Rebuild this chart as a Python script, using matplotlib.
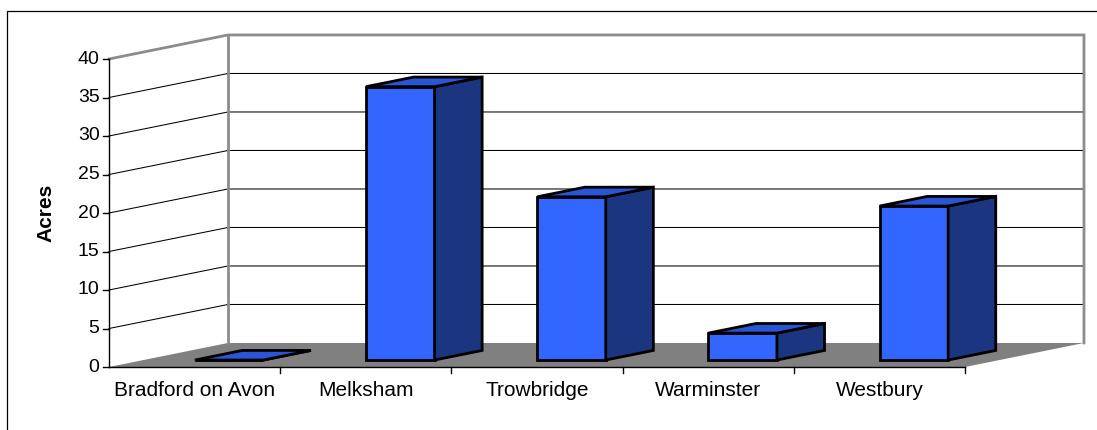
import matplotlib
matplotlib.use("Agg")
import matplotlib.pyplot as plt
from matplotlib.patches import Polygon, Rectangle

# ── data ────────────────────────────────────────────────────────────────────
towns = ["Bradford on Avon", "Melksham", "Trowbridge", "Warminster", "Westbury"]
acres = [0.0, 35.5, 21.2, 3.5, 20.0]
yticks = [0, 5, 10, 15, 20, 25, 30, 35, 40]

# ── style ───────────────────────────────────────────────────────────────────
FRONT, TOP, SIDE = "#3366FF", "#2A55D5", "#1B3580"
WALL, FLOOR = "#8C8C8C", "#808080"
plt.rcParams["font.family"] = ["Liberation Sans", "DejaVu Sans"]

# oblique depth offset (in category units / value units) for depth d in [0,1]
DX, DY = 0.695, 3.12
D0, D1 = 0.29, 0.69      # bar front / back depth
BW = 0.4                 # bar width (category units)
YMAX = yticks[-1]
N = len(towns)


def P(x, v, d):
    return (x + d * DX, v + d * DY)


fig = plt.figure(figsize=(10.97, 4.30), dpi=100)
ax = fig.add_axes([0, 0, 1, 1])
ax.set_xlim(-109 / 171.2, (1097 - 109) / 171.2)
ax.set_ylim((367 - 430) / 7.7, 367 / 7.7)
ax.axis("off")

# outer chart border
fig.patches.append(Rectangle((7 / 1097, -0.2), 1.2, 0.2 + 1 - 11 / 430, fill=False,
                             edgecolor="black", linewidth=0.9, transform=fig.transFigure))

# floor
ax.add_patch(Polygon([P(0, 0, 0), P(N, 0, 0), P(N, 0, 1), P(0, 0, 1)],
                     closed=True, facecolor=FLOOR, edgecolor="none", zorder=1))

# gridlines: back wall + side wall
for v in yticks[1:-1]:
    xs, ys = zip(P(0, v, 0), P(0, v, 1), P(N, v, 1))
    ax.plot(xs, ys, color="black", lw=0.75, zorder=2)

# wall frame
for seg in ([P(0, YMAX, 0), P(0, YMAX, 1), P(N, YMAX, 1), P(N, 0, 1)],
            [P(0, 0, 1), P(0, YMAX, 1)]):
    xs, ys = zip(*seg)
    ax.plot(xs, ys, color=WALL, lw=2, zorder=3, solid_joinstyle="miter")

# axes lines and ticks
ax.plot(*zip(P(0, 0, 0), P(0, YMAX, 0)), color="black", lw=1, zorder=4)
ax.plot(*zip(P(0, 0, 0), P(N, 0, 0)), color="black", lw=1, zorder=4)
for v in yticks:
    ax.plot([-0.035, 0], [v, v], color="black", lw=1, zorder=4)
    ax.text(-0.055, v, str(v), ha="right", va="center", fontsize=14)
for i in range(1, N + 1):
    ax.plot([i, i], [0, -0.8], color="black", lw=1, zorder=4)

# bars
for i, (t, a) in enumerate(zip(towns, acres)):
    x0, x1 = i + 0.5 - BW / 2, i + 0.5 + BW / 2
    front = [P(x0, 0, D0), P(x1, 0, D0), P(x1, a, D0), P(x0, a, D0)]
    side = [P(x1, 0, D0), P(x1, 0, D1), P(x1, a, D1), P(x1, a, D0)]
    top = [P(x0, a, D0), P(x1, a, D0), P(x1, a, D1), P(x0, a, D1)]
    for poly, c in ((front, FRONT), (side, SIDE), (top, TOP)):
        ax.add_patch(Polygon(poly, closed=True, facecolor=c, edgecolor="black",
                             linewidth=2.0, joinstyle="miter", zorder=5))
    ax.text(i + 0.5, -3.0, t, ha="center", va="center", fontsize=15)

ax.text(-0.368, 20, "Acres", rotation=90, ha="center", va="center",
        fontsize=15, fontweight="bold")

fig.savefig("out.png", dpi=100, facecolor="white")
